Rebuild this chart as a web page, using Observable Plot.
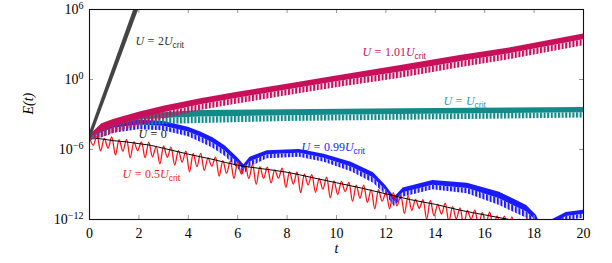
<!DOCTYPE html>
<html><head><meta charset="utf-8">
<script src="https://cdn.jsdelivr.net/npm/d3@7"></script>
<script src="https://cdn.jsdelivr.net/npm/@observablehq/plot@0.6"></script>
<style>
body{margin:0;background:#fff;}
</style></head><body><div id="chart"></div>
<script>
// ---- axis ticks ----
const xTicks = [0, 2, 4, 6, 8, 10, 12, 14, 16, 18, 20];
const yTickExp = [-12, -6, 0, 6];

// ---- U = 2 U_crit (band envelope, log10 E) ----
const grayT  = [0, 2.1];
const grayHi = [-4.6, 7.8];
const grayLo = [-5.4, 6.6];

// ---- U = 1.01 U_crit ----
const magT  = [0, 0.5, 1, 2, 3, 4.5, 6, 8, 10, 12.6, 15, 17, 20];
const magHi = [-4.8, -3.8, -3.4, -2.8, -2.3, -1.65, -1.1, -0.4, 0.3, 1.2, 2.05, 2.7, 3.9];
const magLo = [-5.2, -5.0, -4.6, -4.0, -3.4, -2.66, -2.1, -1.4, -0.7, 0.1, 1.0, 1.7, 2.9];

// ---- U = U_crit ----
const tealT  = [0, 0.5, 1, 2, 3, 4.5, 8, 12.6, 20];
const tealHi = [-5.0, -3.9, -3.5, -3.0, -2.85, -2.66, -2.6, -2.5, -2.4];
const tealLo = [-5.3, -5.0, -4.5, -4.0, -3.85, -3.77, -3.6, -3.5, -3.3];

// ---- U = 0.99 U_crit ----
const blueT  = [0, 0.5, 1, 2, 3, 4, 4.5, 5, 5.5, 6.0, 6.25, 6.5, 7.2, 8.5, 9.5, 10.6, 11.5, 12.0, 12.35, 12.7, 13.9, 15.3, 16.6, 17.7, 18.1, 18.45, 18.75, 19.3, 20];
const blueHi = [-5.0, -4.1, -3.7, -3.5, -3.6, -4.1, -4.5, -5.0, -5.7, -6.7, -7.3, -6.66, -6.1, -6.0, -6.4, -7.1, -8.0, -9.1, -10.1, -9.3, -8.66, -8.9, -9.66, -10.8, -11.66, -13.5, -12.0, -11.4, -11.2];
const blueLo = [-5.3, -5.0, -4.6, -4.3, -4.4, -4.9, -5.37, -5.9, -6.6, -7.6, -8.2, -7.5, -6.8, -6.66, -7.1, -7.9, -8.9, -9.9, -10.9, -10.1, -9.45, -9.8, -10.8, -11.9, -12.6, -14.0, -13.0, -12.1, -11.9];

// ---- U = 0.5 U_crit (log10 E) ----
const redT = [0,0.15,0.3,0.45,0.6,0.75,0.9,1.05,1.2,1.35,1.5,1.65,1.8,1.95,2.1,2.25,2.4,2.55,2.7,2.85,
  3,3.15,3.3,3.45,3.6,3.75,3.9,4.05,4.2,4.35,4.5,4.65,4.8,4.95,5.1,5.25,5.4,5.55,5.7,5.85,
  6,6.15,6.3,6.45,6.6,6.75,6.9,7.05,7.2,7.35,7.5,7.65,7.8,7.95,8.1,8.25,8.4,8.55,8.7,8.85,
  9,9.15,9.3,9.45,9.6,9.75,9.9,10.05,10.2,10.35,10.5,10.65,10.8,10.95,11.1,11.25,11.4,11.55,11.7,11.85,
  12,12.15,12.3,12.45,12.6,12.75,12.9,13.05,13.2,13.35,13.5,13.65,13.8,13.95,14.1,14.25,14.4,14.55,14.7,14.85,
  15,15.15,15.3,15.45,15.6,15.75,15.9,16.05,16.2,16.35,16.5,16.65,16.8,16.95,17.1,17.25,17.4,17.55,17.7,17.85,18];
const redLogE = [-4.95,-5.64,-4.83,-6.11,-5.05,-5.89,-4.92,-6.46,-5.15,-6.14,-5.13,-6.71,-5.35,-6.09,-5.34,-6.70,-5.36,-6.62,-5.73,-7.24,
  -5.70,-6.68,-5.80,-7.33,-6.10,-7.08,-6.15,-7.92,-6.34,-7.46,-6.33,-7.79,-6.71,-7.43,-6.65,-8.28,-6.95,-8.03,-7.00,-8.48,
  -7.05,-8.10,-7.34,-8.49,-7.28,-8.98,-7.47,-8.47,-7.51,-8.86,-7.75,-8.45,-7.59,-9.24,-7.90,-8.96,-7.93,-9.70,-8.12,-9.03,
  -8.15,-9.67,-8.49,-9.40,-8.37,-10.14,-8.70,-9.87,-8.74,-9.61,-8.83,-10.44,-9.06,-10.18,-9.05,-10.53,-9.45,-11.08,-9.45,-10.43,
  -9.70,-11.08,-9.70,-10.83,-9.95,-11.48,-9.95,-11.22,-10.28,-11.04,-10.30,-11.96,-10.37,-11.68,-10.70,-11.53,-10.60,-12.18,-10.90,-11.93,
  -11.00,-12.56,-11.22,-11.98,-11.19,-12.60,-11.41,-12.32,-11.38,-12.64,-11.70,-12.46,-11.72,-12.98,-11.78,-12.88,-11.97,-13.07,-11.91,-13.26,-12.20];

// ---- U = 0 ----
const zeroT    = [0, 0.5, 1, 1.5, 2, 2.5, 3, 3.5, 4, 5, 6, 7, 8, 9, 10, 11, 12, 13, 14, 15, 16, 17, 18];
const zeroLogE = [-5.0, -5.1, -5.25, -5.35, -5.5, -5.65, -5.9, -6.15, -6.4, -6.85, -7.35, -7.65, -7.95, -8.4, -8.85, -9.3, -9.8, -10.3, -10.7, -11.2, -11.6, -12.0, -12.3];

// ---- curve labels ----
const labelText = ["U = 2U_crit", "U = 1.01U_crit", "U = U_crit", "U = 0", "U = 0.99U_crit", "U = 0.5U_crit"];
const labelT    = [1.86, 11.05, 14.33, 1.98, 8.58, 1.34];
const labelLogE = [3.26, 2.31, -1.89, -4.71, -5.83, -8.14];
const labelColor = ["#333333", "#c8105a", "#1a9cc8", "#111111", "#2222ff", "#ff1a1a"];

// band split: solid upper part, serrated (striped) lower part
const SOLID = 0.5;
const band = (T, Hi, Lo) => T.map((t, i) => {
  const mid = Hi[i] - SOLID * (Hi[i] - Lo[i]);
  return {t, hi: 10 ** Hi[i], lo: 10 ** Lo[i], mid: 10 ** mid};
});
const line = (T, V) => T.map((t, i) => ({t, e: 10 ** V[i]}));
const labels = labelText.map((s, i) => ({s, t: labelT[i], e: 10 ** labelLogE[i], c: labelColor[i]}));

const serif = "'Liberation Serif', 'Times New Roman', serif";
const ptH = 263 - 9 - 44, ptW = 612 - 89 - 29;

const bandMarks = (data, color, pid) => [
  Plot.areaY(data, {x: "t", y1: "lo", y2: "mid", fill: `url(#${pid})`, clip: true}),
  Plot.areaY(data, {x: "t", y1: "mid", y2: "hi", fill: color, clip: true})
];

const blueBand = band(blueT, blueHi, blueLo);
const tealBand = band(tealT, tealHi, tealLo);
const magBand = band(magT, magHi, magLo);

const chart = Plot.plot({
  width: 612, height: 263,
  marginLeft: 89, marginRight: 29, marginTop: 9, marginBottom: 44,
  style: {fontFamily: serif, fontSize: "14px", background: "white", color: "black", overflow: "visible"},
  x: {domain: [0, 20], ticks: xTicks, tickSize: 0, tickPadding: 9, label: null, tickFormat: d => String(d)},
  y: {type: "log", domain: [1e-12, 1e6], ticks: yTickExp.map(e => 10 ** e), tickSize: 0, tickPadding: 6, label: null,
      tickFormat: d => "10^" + Math.round(Math.log10(d))},
  marks: [
    ...bandMarks(blueBand, "#1a1aff", "pat-blue"),
    Plot.line(line(redT, redLogE), {x: "t", y: "e", stroke: "#ff1414", strokeWidth: 1.3, curve: "catmull-rom", clip: true}),
    Plot.line(line(zeroT, zeroLogE), {x: "t", y: "e", stroke: "#000", strokeWidth: 1, curve: "monotone-x", clip: true}),
    ...bandMarks(tealBand, "#138a8a", "pat-teal"),
    ...bandMarks(magBand, "#c8105a", "pat-mag"),
    Plot.areaY(band(grayT, grayHi, grayLo), {x: "t", y1: "lo", y2: "hi", fill: "#444444", clip: true}),
    // inward tick marks
    Plot.tickX(xTicks, {x: d => d, insetTop: ptH - 4, stroke: "#999"}),
    Plot.tickX(xTicks, {x: d => d, insetBottom: ptH - 4, stroke: "#999"}),
    Plot.tickY(yTickExp, {y: d => 10 ** d, insetRight: ptW - 4, stroke: "#999"}),
    Plot.tickY(yTickExp, {y: d => 10 ** d, insetLeft: ptW - 4, stroke: "#999"}),
    Plot.frame({stroke: "#111", strokeWidth: 1.1}),
    Plot.text(labels, {x: "t", y: "e", text: "s", fill: "c", textAnchor: "start", fontSize: 12, className: "curve-label"}),
    Plot.text(["t"], {frameAnchor: "bottom", dy: 33, fontStyle: "italic", fontSize: 14}),
    Plot.text(["E(t)"], {frameAnchor: "left", dx: -61, rotate: -90, fontStyle: "italic", fontSize: 14})
  ]
});

const NS = "http://www.w3.org/2000/svg";
// stripe patterns that give the bands their serrated look
const defs = document.createElementNS(NS, "defs");
[["pat-blue", "#1a1aff"], ["pat-teal", "#138a8a"], ["pat-mag", "#c8105a"]].forEach(([id, c]) => {
  const p = document.createElementNS(NS, "pattern");
  p.setAttribute("id", id);
  p.setAttribute("patternUnits", "userSpaceOnUse");
  p.setAttribute("width", "3.6");
  p.setAttribute("height", "8");
  const r = document.createElementNS(NS, "rect");
  r.setAttribute("width", "2.1"); r.setAttribute("height", "8"); r.setAttribute("fill", c);
  p.appendChild(r);
  defs.appendChild(p);
});
chart.insertBefore(defs, chart.firstChild);

function tspan(parent, txt, attrs = {}) {
  const s = document.createElementNS(NS, "tspan");
  s.textContent = txt;
  for (const k in attrs) s.setAttribute(k, attrs[k]);
  parent.appendChild(s);
  return s;
}
// superscript exponents on y tick labels
chart.querySelectorAll("text").forEach(t => {
  const c = t.textContent;
  if (/^10\^/.test(c)) {
    const e = c.split("^")[1].replace("-", "\u2212");
    t.textContent = "";
    tspan(t, "10");
    tspan(t, e, {dy: "-0.5em", "font-size": "10px"});
  }
});
// math-style curve labels: italic letters, spaced "=", sans subscript
chart.querySelectorAll(".curve-label text").forEach(t => {
  const [main, sub] = t.textContent.split("_");
  const tokens = main.split(" ").filter(Boolean);
  t.textContent = "";
  tokens.forEach((tok, k) => {
    const parts = tok.match(/[A-Za-z]+|[^A-Za-z]+/g);
    parts.forEach((p, m) => {
      const attrs = {};
      if (/[A-Za-z]/.test(p)) attrs["font-style"] = "italic";
      if (m === 0 && k > 0) attrs.dx = "3.5";
      tspan(t, p, attrs);
    });
  });
  if (sub) tspan(t, sub, {dy: "2.5", "font-size": "8.5px", "font-family": "'Liberation Sans', Arial, sans-serif"});
});
document.getElementById("chart").appendChild(chart);
</script>
</body></html>
